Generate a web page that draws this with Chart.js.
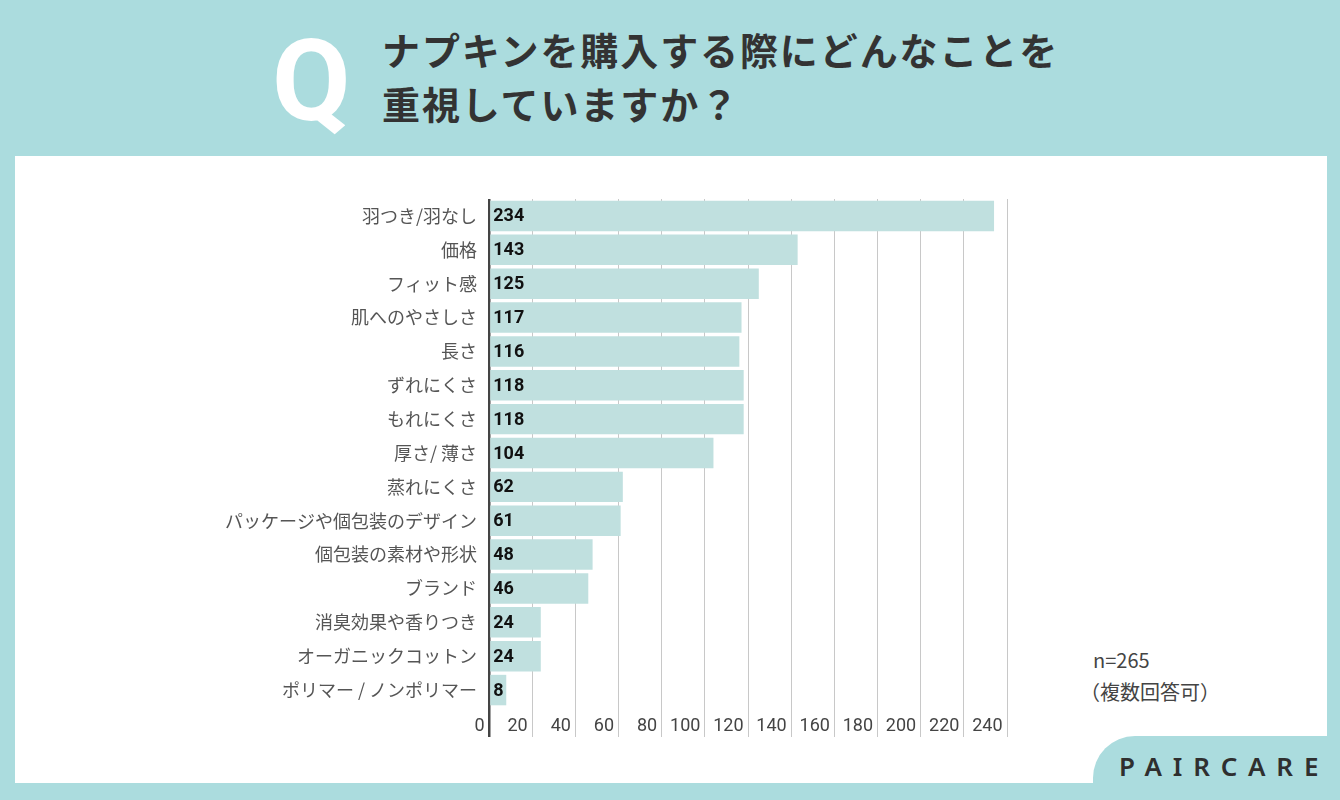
<!DOCTYPE html>
<html><head><meta charset="utf-8">
<script src="https://cdn.jsdelivr.net/npm/chart.js@4"></script>
<style>
html,body{margin:0;padding:0;}
body{width:1340px;height:800px;background:#abdcde;position:relative;overflow:hidden;font-family:"Noto Sans CJK JP",sans-serif;}
#panel{position:absolute;left:15px;top:156px;width:1312px;height:627px;background:#fff;}
#logo{position:absolute;left:1093px;top:736px;width:260px;height:80px;background:#abdcde;border-top-left-radius:42px;}
#logotext{position:absolute;left:1119px;top:748px;font-family:"Noto Sans",sans-serif;font-weight:600;font-size:26px;letter-spacing:10.8px;color:#2f2f2f;}
#q{position:absolute;left:272px;top:24px;font-family:Roboto,sans-serif;font-weight:700;font-size:114px;color:#fff;line-height:1;}
#title{position:absolute;left:382px;top:22px;font-family:"Noto Sans CJK JP",sans-serif;font-weight:700;font-size:38px;color:#333;line-height:54px;letter-spacing:1.9px;}
#note{position:absolute;left:1080px;top:644px;font-size:20px;color:#444;line-height:32px;font-family:"Noto Sans CJK JP",sans-serif;}
#note span{padding-left:13px;}
canvas{position:absolute;left:0;top:0;}
</style></head>
<body>
<div id="panel"></div>
<div id="logo"></div>
<div id="logotext">PAIRCARE</div>
<div id="q">Q</div>
<div id="title">ナプキンを購入する際にどんなことを<br>重視していますか？</div>
<div id="note"><span>n=265</span><br>（複数回答可）</div>
<canvas id="c" width="1340" height="800"></canvas>
<script>
const categories = ["羽つき/羽なし","価格","フィット感","肌へのやさしさ","長さ","ずれにくさ","もれにくさ","厚さ/ 薄さ","蒸れにくさ","パッケージや個包装のデザイン","個包装の素材や形状","ブランド","消臭効果や香りつき","オーガニックコットン","ポリマー / ノンポリマー"];
const counts = [234,143,125,117,116,118,118,104,62,61,48,46,24,24,8];
const tickValues = [0,20,40,60,80,100,120,140,160,180,200,220,240];

const valueLabels = {
  id:'valueLabels',
  afterDatasetsDraw(chart){
    const ctx = chart.ctx;
    const meta = chart.getDatasetMeta(0);
    ctx.save();
    ctx.font = '700 18px Roboto, sans-serif';
    ctx.fillStyle = '#111';
    ctx.textAlign = 'left';
    ctx.textBaseline = 'middle';
    meta.data.forEach((bar,i)=>{
      ctx.fillText(String(counts[i]), bar.base + 3, bar.y + 1);
    });
    ctx.restore();
  }
};

new Chart(document.getElementById('c'),{
  type:'bar',
  data:{labels:categories,datasets:[{data:counts,backgroundColor:'#c0e0df',borderWidth:0,barPercentage:0.9,categoryPercentage:1.0}]},
  options:{
    indexAxis:'y',
    responsive:false,
    animation:false,
    layout:{padding:{left:0,right:333,top:199,bottom:0}},
    plugins:{legend:{display:false},tooltip:{enabled:false}},
    scales:{
      x:{
        min:0,max:240,
        afterBuildTicks(scale){scale.ticks = tickValues.map(v=>({value:v}));},
        afterFit(scale){scale.height = 93;},
        border:{display:false},
        grid:{
          color:(c)=> c.tick && c.tick.value===0 ? '#444' : '#c8c8c8',
          lineWidth:(c)=> c.tick && c.tick.value===0 ? 2.5 : 1,
          tickLength:30,
          drawTicks:true
        },
        ticks:{
          align:'end',
          padding:-21,
          color:'#444',
          font:{family:'Roboto, sans-serif',size:18},
          callback:(v)=> v + ' ',
          maxRotation:0,autoSkip:false
        }
      },
      y:{
        afterFit(scale){scale.width = 489;},
        border:{display:false},
        grid:{display:false,drawTicks:false},
        ticks:{
          color:'#555',
          padding:12,
          font:{family:'"Noto Sans CJK JP", sans-serif',size:18},
          autoSkip:false
        }
      }
    }
  },
  plugins:[valueLabels]
});
</script>
</body></html>
